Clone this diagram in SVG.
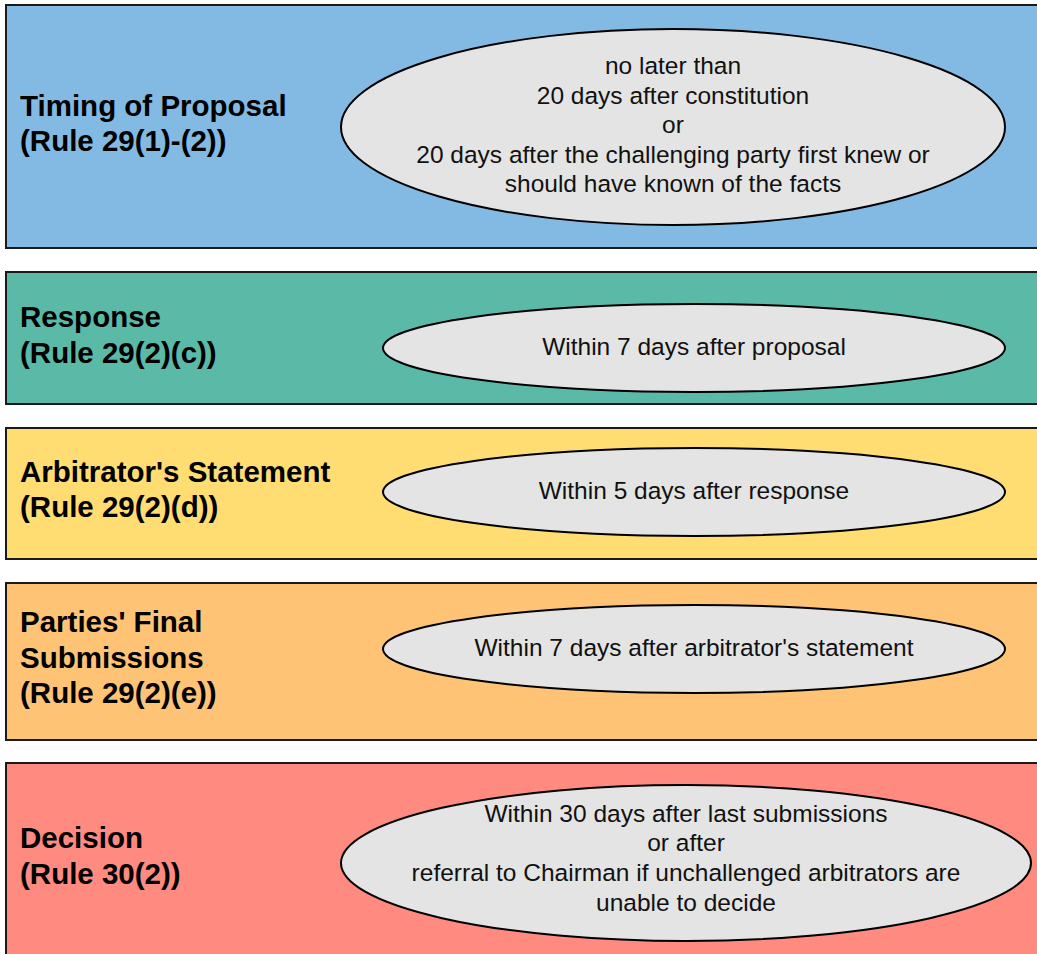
<svg xmlns="http://www.w3.org/2000/svg" width="1037" height="954" viewBox="0 0 1037 954">
  <style>
    .band { stroke: #1a1a1a; stroke-width: 2; }
    .oval { fill: #e4e4e4; stroke: #000; stroke-width: 2; }
    .head { font-family: "Liberation Sans", Arial, sans-serif; font-weight: bold; font-size: 29.5px; fill: #000; }
    .body { font-family: "Liberation Sans", Arial, sans-serif; font-size: 24.5px; fill: #111; text-anchor: middle; }
  </style>
  <rect width="1037" height="954" fill="#ffffff"/>

  <g id="timing">
    <rect class="band" x="6" y="5" width="1040" height="243" fill="#83bae3"/>
    <text class="head" x="20" y="116">Timing of Proposal</text>
    <text class="head" x="20" y="151">(Rule 29(1)-(2))</text>
    <ellipse class="oval" cx="673" cy="127" rx="332" ry="98"/>
    <text class="body" x="673" y="74">no later than</text>
    <text class="body" x="673" y="104">20 days after constitution</text>
    <text class="body" x="673" y="133">or</text>
    <text class="body" x="673" y="163">20 days after the challenging party first knew or</text>
    <text class="body" x="673" y="192">should have known of the facts</text>
  </g>

  <g id="response">
    <rect class="band" x="6" y="272" width="1040" height="132" fill="#5bbaa7"/>
    <text class="head" x="20" y="327">Response</text>
    <text class="head" x="20" y="363">(Rule 29(2)(c))</text>
    <ellipse class="oval" cx="694" cy="348" rx="311" ry="44"/>
    <text class="body" x="694" y="355">Within 7 days after proposal</text>
  </g>

  <g id="statement">
    <rect class="band" x="6" y="428" width="1040" height="131" fill="#ffdd72"/>
    <text class="head" x="20" y="482">Arbitrator's Statement</text>
    <text class="head" x="20" y="517">(Rule 29(2)(d))</text>
    <ellipse class="oval" cx="694" cy="492" rx="311" ry="44"/>
    <text class="body" x="694" y="499">Within 5 days after response</text>
  </g>

  <g id="submissions">
    <rect class="band" x="6" y="583" width="1040" height="157" fill="#ffc375"/>
    <text class="head" x="20" y="632">Parties' Final</text>
    <text class="head" x="20" y="668">Submissions</text>
    <text class="head" x="20" y="703">(Rule 29(2)(e))</text>
    <ellipse class="oval" cx="694" cy="649" rx="311" ry="44"/>
    <text class="body" x="694" y="656">Within 7 days after arbitrator's statement</text>
  </g>

  <g id="decision">
    <rect class="band" x="6" y="763" width="1040" height="220" fill="#ff8a80"/>
    <text class="head" x="20" y="848">Decision</text>
    <text class="head" x="20" y="884">(Rule 30(2))</text>
    <ellipse class="oval" cx="686" cy="863" rx="345" ry="78"/>
    <text class="body" x="686" y="822">Within 30 days after last submissions</text>
    <text class="body" x="686" y="851">or after</text>
    <text class="body" x="686" y="881">referral to Chairman if unchallenged arbitrators are</text>
    <text class="body" x="686" y="911">unable to decide</text>
  </g>

  <g id="connectors"></g>
</svg>
